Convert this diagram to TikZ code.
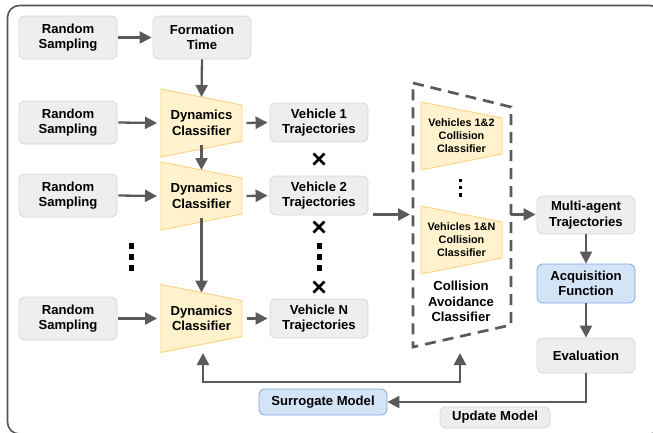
\documentclass[tikz,border=0pt]{standalone}
\usepackage{fontspec}
\setmainfont{Liberation Sans}
\usetikzlibrary{arrows.meta,calc}
\definecolor{grayfill}{HTML}{EEEEEE}
\definecolor{grayline}{HTML}{D6D6D6}
\definecolor{yfill}{HTML}{FFF2CC}
\definecolor{yline}{HTML}{FFD180}
\definecolor{bfill}{HTML}{D4E4F7}
\definecolor{bline}{HTML}{7EA6E0}
\definecolor{arrc}{HTML}{5A5A5A}
\definecolor{framec}{HTML}{555555}
\newcommand\mytrap[5]{%
  \draw[trapline] (#2-40.5,#3-34) -- (#2+40.5,#3-18) -- (#2+40.5,#3+18) -- (#2-40.5,#3+34) -- cycle;
  \node[traptext,font=#5] (#1) at (#2,#3) {#4};
  \coordinate (#1-top) at (#2,#3-26);
  \coordinate (#1-bot) at (#2,#3+22);
  \coordinate (#1-in) at (#2-44.5,#3);
  \coordinate (#1-out) at (#2+45,#3);
}
\begin{document}
\begin{tikzpicture}[x=1pt,y=-1pt,
  bigfont/.style={font=\bfseries\fontsize{13.1}{15.5}\selectfont},
  box/.style={draw=grayline, fill=grayfill, rounded corners=6pt, line width=0.8pt,
    minimum width=98pt, align=center, inner sep=0pt, bigfont},
  bbox/.style={box, draw=bline, fill=bfill},
  trapline/.style={draw=yline, fill=yfill, line width=0.9pt},
  traptext/.style={align=center, inner sep=0pt},
  arr/.style={draw=arrc, line width=2.3pt, -{Triangle[length=12pt,width=12pt]}},
  arrboth/.style={draw=arrc, line width=2.3pt, {Triangle[length=12pt,width=12pt]}-{Triangle[length=12pt,width=12pt]}},
  xmark/.style={draw=black, line width=2.7pt},
  dotsq/.style={fill=black},
]
\useasboundingbox (0,0) rectangle (653,432);
\draw[framec, line width=1.6pt, rounded corners=12pt] (7.5,5.5) rectangle (662,434);

% left column
\node[box, minimum height=43pt] (rs1) at (68,37.5) {Random\\Sampling};
\node[box, minimum height=43pt] (ft) at (202,37.5) {Formation\\Time};
\node[box, minimum height=43pt] (rs2) at (68,122.5) {Random\\Sampling};
\node[box, minimum height=43pt] (rs3) at (68,195.5) {Random\\Sampling};
\node[box, minimum height=43pt] (rs4) at (68,318.5) {Random\\Sampling};

\mytrap{d1}{201.5}{123}{Dynamics\\Classifier}{\bfseries\fontsize{13.1}{15.5}\selectfont}
\mytrap{d2}{201.5}{196}{Dynamics\\Classifier}{\bfseries\fontsize{13.1}{15.5}\selectfont}
\mytrap{d3}{201.5}{318.5}{Dynamics\\Classifier}{\bfseries\fontsize{13.1}{15.5}\selectfont}

\node[box, minimum height=39pt] (v1) at (319,122.5) {Vehicle 1\\Trajectories};
\node[box, minimum height=39pt] (v2) at (319,195.5) {Vehicle 2\\Trajectories};
\node[box, minimum height=39pt] (vn) at (319,318.5) {Vehicle N\\Trajectories};

% dots
\foreach \yy [count=\i] in {246,257,268} {
  \fill[dotsq] (128.5,\yy-2.6) rectangle (133.7,\yy+2.6);
  \fill[dotsq] (316.5,\yy-2.6) rectangle (321.7,\yy+2.6);
}
% x marks
\foreach \yy in {159,227,287} {
  \draw[xmark] (313.5,\yy-5.5) -- (324.5,\yy+5.5);
  \draw[xmark] (313.5,\yy+5.5) -- (324.5,\yy-5.5);
}

% collision avoidance classifier
\draw[arrc, line width=2.7pt, dash pattern=on 11pt off 7pt]
  (413,83) -- (511,107) -- (511,325) -- (413,347) -- cycle;
\mytrap{c1}{461.5}{136}{Vehicles 1\&2\\Collision\\Classifier}{\bfseries\fontsize{10.8}{13}\selectfont}
\mytrap{c2}{461.5}{240}{Vehicles 1\&N\\Collision\\Classifier}{\bfseries\fontsize{10.8}{13}\selectfont}
\foreach \yy in {180.5,187.5,195} {
  \fill[dotsq] (458.5,\yy-1.8) rectangle (462,\yy+1.8);
}
\node[align=center, inner sep=0pt, bigfont] (cav) at (461,301.5) {Collision\\Avoidance\\Classifier};
\coordinate (cavin) at (410,214.5);
\coordinate (cavout) at (511,214.5);
\coordinate (cavbot) at (460,353);

% right column
\node[box, minimum height=38pt] (ma) at (586,215) {Multi-agent\\Trajectories};
\node[bbox, minimum height=39pt] (af) at (586,283.5) {Acquisition\\Function};
\node[box, minimum height=35pt] (ev) at (586,355.5) {Evaluation};
\node[bbox, minimum width=128pt, minimum height=26pt] (sm) at (323,402) {Surrogate Model};
\node[box, minimum width=110pt, minimum height=21pt] (um) at (495,417.5) {Update Model};

% connectors
\draw[arr] ([xshift=1pt]rs1.east) -- ([xshift=-1pt]ft.west);
\draw[arr] (ft.south) -- (d1-top);
\draw[arr] (d1-bot) -- (d2-top);
\draw[arr] (d2-bot) -- (d3-top);
\draw[arr] ([xshift=1pt]rs2.east) -- (d1-in);
\draw[arr] ([xshift=1pt]rs3.east) -- (d2-in);
\draw[arr] ([xshift=1pt]rs4.east) -- (d3-in);
\draw[arr] (d1-out) -- ([xshift=-2pt]v1.west);
\draw[arr] (d2-out) -- ([xshift=-2pt]v2.west);
\draw[arr] (d3-out) -- ([xshift=-2pt]vn.west);
\draw[arr] ([xshift=5pt]v2.east |- cavin) -- (cavin);
\draw[arr] (cavout) -- ([xshift=-1pt]ma.west |- cavout);
\draw[arr] (ma.south) -- (af.north);
\draw[arr] (af.south) -- (ev.north);
\draw[arr] (ev.south) |- (sm.east);
\coordinate (fbl) at (203,353);
\draw[arrboth] (fbl) |- (cavbot |- 0,382) -- (cavbot);
\end{tikzpicture}
\end{document}
